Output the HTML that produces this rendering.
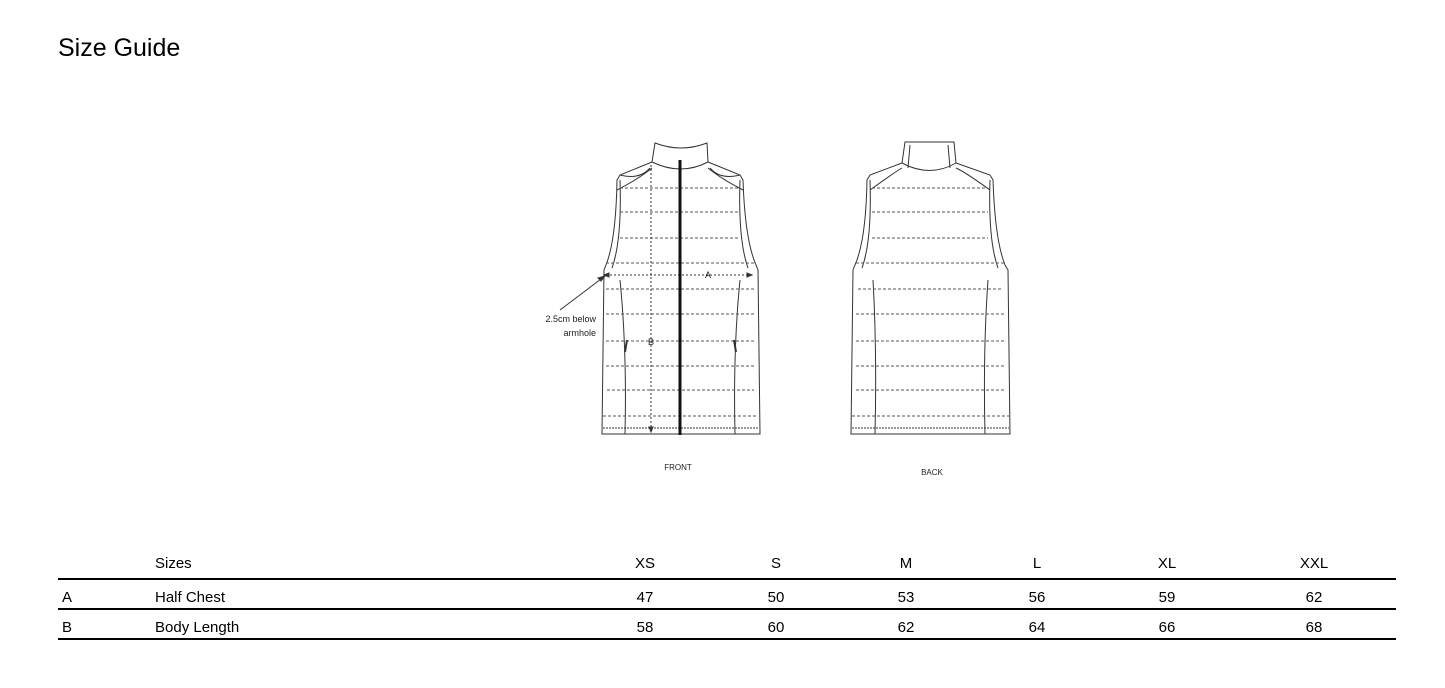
<!DOCTYPE html>
<html><head><meta charset="utf-8">
<style>
body{margin:0;width:1445px;height:688px;background:#fff;position:relative;overflow:hidden;font-family:"Liberation Sans",sans-serif;color:#000}
.t{position:absolute;font-size:15px;line-height:18px;white-space:nowrap}
.c{transform:translateX(-50%)}
.ln{position:absolute;left:58px;width:1338px;background:#000}
h1{position:absolute;left:58px;top:34px;margin:0;font-weight:normal;font-size:25px}
</style></head><body>
<h1>Size Guide</h1>
<svg width="1445" height="688" style="position:absolute;left:0;top:0" xmlns="http://www.w3.org/2000/svg">
<g fill="none" stroke="#333" stroke-width="1">
<path d="M655,143 Q681,153 707,143 L708,162 L740,175 L743,180 Q745,240 756,265 L758,270 L760,434 L602,434 L604,270 L606,265 Q616,240 617,180 L620,175 L652,162 Z"/>
<path d="M652,162 Q681,176 708,162"/>
<path d="M620,175 Q640,180 650,168 M740,175 Q720,180 710,168"/>
<path d="M617,190 Q640,178 652,168 M743,190 Q720,178 708,168"/>
<path d="M620,180 Q622,240 612,268 M740,180 Q738,240 748,268"/>
<path d="M620,280 Q627,350 625,434 M740,280 Q733,350 735,434"/>
<path d="M603,428 L759,428" stroke-dasharray="2,1"/>
<g stroke="#555" stroke-dasharray="3,2">
<path d="M620,188H740M620,212H740M620,238H740M606,263H756M606,289H754M606,314H755M606,341H755M606,366H755M607,390H754M603,416H758"/>
</g>
<path d="M651,165V432M606,275H752" stroke="#333" stroke-dasharray="2,2"/>
<path d="M604,275l5,-2v4zM752,275l-5,-2v4zM651,432l-2,-5h4z" fill="#333"/>
<path d="M605,276 L560,310" stroke="#333"/>
<path d="M605,276l-7,2 3,3z" fill="#333"/>
<line x1="680" y1="160" x2="680" y2="435" stroke="#111" stroke-width="3"/>
<path d="M627,340 l-2,12 M734,340 l2,12" stroke-width="2"/>
<path d="M905,142 L954,142 L956,163 L990,175 L993,180 Q995,240 1005,265 L1008,270 L1010,434 L851,434 L853,270 L855,265 Q866,240 867,180 L870,175 L902,163 Z"/>
<path d="M902,163 Q930,178 956,163"/>
<path d="M910,145 L908,168 M948,145 L950,168"/>
<path d="M870,190 Q895,172 902,168 M990,190 Q965,172 956,168"/>
<path d="M870,180 Q872,240 862,268 M990,180 Q988,240 998,268"/>
<path d="M873,280 Q877,350 875,434 M988,280 Q983,350 985,434"/>
<path d="M852,428 L1009,428" stroke-dasharray="2,1"/>
<g stroke="#555" stroke-dasharray="3,2">
<path d="M872,188H988M872,212H988M872,238H988M856,263H1004M858,289H1003M856,314H1005M856,341H1005M856,366H1004M856,390H1005M852,416H1009"/>
</g>
</g>
<g font-family="Liberation Sans,sans-serif" font-size="9" fill="#222">
<text x="678" y="470" text-anchor="middle" font-size="8">FRONT</text>
<text x="932" y="475" text-anchor="middle" font-size="8">BACK</text>
<text x="708" y="278" text-anchor="middle">A</text>
<text x="651" y="345" text-anchor="middle">B</text>
<text x="596" y="322" text-anchor="end">2.5cm below</text>
<text x="596" y="336" text-anchor="end">armhole</text>
</g>
</svg>
<div class="t" style="left:155px;top:555px">Sizes</div>
<div class="t c" style="left:645px;top:555px">XS</div>
<div class="t c" style="left:776px;top:555px">S</div>
<div class="t c" style="left:906px;top:555px">M</div>
<div class="t c" style="left:1037px;top:555px">L</div>
<div class="t c" style="left:1167px;top:555px">XL</div>
<div class="t c" style="left:1314px;top:555px">XXL</div>
<div class="ln" style="top:578px;height:2px"></div>
<div class="t" style="left:62px;top:589px">A</div>
<div class="t" style="left:155px;top:589px">Half Chest</div>
<div class="t c" style="left:645px;top:589px">47</div>
<div class="t c" style="left:776px;top:589px">50</div>
<div class="t c" style="left:906px;top:589px">53</div>
<div class="t c" style="left:1037px;top:589px">56</div>
<div class="t c" style="left:1167px;top:589px">59</div>
<div class="t c" style="left:1314px;top:589px">62</div>
<div class="ln" style="top:608px;height:2px"></div>
<div class="t" style="left:62px;top:619px">B</div>
<div class="t" style="left:155px;top:619px">Body Length</div>
<div class="t c" style="left:645px;top:619px">58</div>
<div class="t c" style="left:776px;top:619px">60</div>
<div class="t c" style="left:906px;top:619px">62</div>
<div class="t c" style="left:1037px;top:619px">64</div>
<div class="t c" style="left:1167px;top:619px">66</div>
<div class="t c" style="left:1314px;top:619px">68</div>
<div class="ln" style="top:638px;height:2px"></div>
</body></html>
